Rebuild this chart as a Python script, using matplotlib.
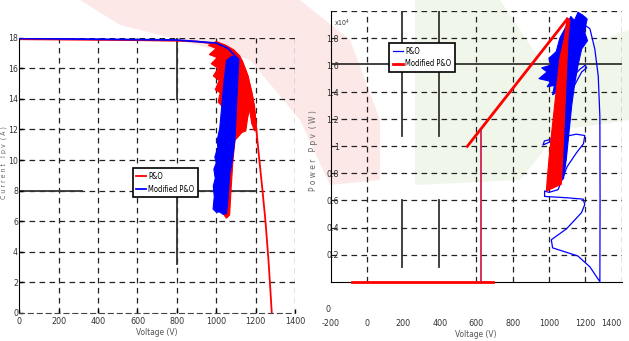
#!/usr/bin/env python3
"""I-V and P-V curves of the PV array: P&O against modified P&O."""

import matplotlib

matplotlib.use("Agg")
import matplotlib.pyplot as plt
from matplotlib import font_manager
from matplotlib.patches import Polygon

# the original uses a narrow sans; take a condensed face if one is installed
_names = {f.name for f in font_manager.fontManager.ttflist}
_cond = [f for f in font_manager.fontManager.ttflist
         if "condensed" in f.fname.lower() or "narrow" in f.fname.lower()]
if "Liberation Sans Narrow" in _names:
    plt.rcParams["font.family"] = ["Liberation Sans Narrow", "DejaVu Sans"]
elif _cond:
    plt.rcParams["font.family"] = [_cond[0].name, "DejaVu Sans"]
    plt.rcParams["font.stretch"] = _cond[0].stretch
else:
    plt.rcParams["font.family"] = ["Liberation Sans", "DejaVu Sans"]
plt.rcParams["axes.unicode_minus"] = False

RED = "#ff0000"
BLUE = "#0000ff"
GRID = "#222222"
CROSS = "#333333"
DASH = (4.5, 3.5)

# ---------------- left panel: current vs voltage ----------------
iv_x_ticks = [0, 200, 400, 600, 800, 1000, 1200, 1400]
iv_y_ticks = [0, 2, 4, 6, 8, 10, 12, 14, 16, 18]

# P&O (red) full I-V trace
po_iv_v = [0, 200, 400, 600, 800, 900, 1000, 1050, 1100, 1130, 1160, 1185,
           1200, 1215, 1235, 1250, 1265, 1275, 1282]
po_iv_i = [17.9, 17.88, 17.86, 17.84, 17.8, 17.75, 17.6, 17.4, 17.0, 16.5,
           15.5, 14.0, 12.5, 10.5, 8.0, 6.0, 3.5, 1.5, 0.0]
# P&O oscillation band (outline)
po_band_v = [1000, 960, 1000, 965, 1005, 975, 1010, 985, 1015, 995, 1020, 1010,
             1030, 1040, 1045, 1040, 1052, 1068, 1075, 1085, 1095, 1110, 1130,
             1150, 1160, 1170, 1180, 1195, 1205, 1195, 1180, 1160, 1140, 1120,
             1090, 1050]
po_band_i = [17.75, 17.5, 17.3, 16.9, 16.7, 16.3, 16.0, 15.5, 15.2, 14.6, 14.4,
             13.8, 13.5, 13.2, 10.0, 6.4, 6.2, 6.4, 8.0, 10.0, 11.3, 11.5, 11.8,
             11.9, 12.8, 13.3, 12.4, 11.9, 12.0, 13.5, 14.5, 15.5, 16.2, 16.8,
             17.2, 17.5]

# Modified P&O (blue)
mpo_iv_v = [0, 400, 800, 1000, 1060, 1111]
mpo_iv_i = [17.95, 17.9, 17.85, 17.65, 17.3, 16.6]
mpo_band_v = [984, 990, 985, 995, 988, 1000, 993, 1008, 1005, 1018, 1030, 1040,
              1052, 1080, 1115, 1105, 1095, 1080, 1069, 1060, 1052, 1035, 1018, 1000]
mpo_band_i = [6.8, 7.6, 8.3, 8.8, 9.4, 9.8, 10.2, 10.8, 11.3, 12.1, 13.8, 15.2,
              16.5, 16.8, 16.6, 14.0, 11.3, 9.8, 9.1, 7.5, 6.5, 6.45, 6.6, 6.6]

# solid black segments printed over the grid
iv_cross = [([803, 803], [18, 14]), ([803, 803], [8, 3.2]),
            ([0, 316], [8, 8]), ([600, 1196], [8, 8])]

# ---------------- right panel: power vs voltage ----------------
pv_x_ticks = [-200, 0, 200, 400, 600, 800, 1000, 1200, 1400]
pv_y_ticks = [0.2, 0.4, 0.6, 0.8, 1.0, 1.2, 1.4, 1.6, 1.8]
pv_y_labels = ["0.2", "0.4", "0.6", "0.8", "1", "1.2", "1.4", "1.6", "1.8"]
pv_x_grid = [0, 600, 800, 1000, 1200, 1400]
pv_y_grid = [0.2, 0.4, 0.6, 0.8, 1.0, 1.2, 1.4, 1.8, 2.0]

# P&O (blue) trace, power in units of 1e4 W
po_pv_v = [1160, 1203, 1225, 1252, 1271, 1280, 1281, 1280,
           1225, 1159, 1020, 1013, 1096, 1179, 1197, 1188, 1100, 976, 976,
           1000, 1050, 1068, 1100, 1150, 1190, 1197, 1150, 1114, 1050, 967,
           975, 1004, 1050, 1080, 1110, 1140, 1180, 1207, 1200, 1170, 1120, 1068]
po_pv_p = [1.99, 1.89, 1.87, 1.72, 1.52, 1.22, 0.6, 0.0,
           0.11, 0.19, 0.25, 0.31, 0.39, 0.51, 0.57, 0.61, 0.62, 0.63, 0.67,
           0.66, 0.68, 0.74, 0.85, 0.95, 1.02, 1.08, 1.09, 1.08, 1.06, 1.01,
           1.04, 1.05, 1.1, 1.2, 1.35, 1.45, 1.55, 1.58, 1.6, 1.57, 1.5, 1.42]
po_pv_band_v = [1160, 1185, 1210, 1195, 1212, 1180, 1160, 1140, 1125, 1110,
                1095, 1080, 1060, 1065, 1060, 1040, 1020, 1030, 990, 1010, 945,
                990, 960, 1010, 1000, 1040, 1060, 1100, 1120, 1140]
po_pv_band_p = [1.99, 1.97, 1.94, 1.85, 1.78, 1.72, 1.6, 1.45, 1.3, 1.1, 0.9,
                0.76, 0.75, 1.0, 1.3, 1.4, 1.38, 1.45, 1.44, 1.48, 1.5, 1.55,
                1.58, 1.6, 1.65, 1.7, 1.8, 1.9, 1.96, 1.93]

# Modified P&O (red)
mpo_pv_base_v = [-83, 690]
mpo_pv_base_p = [0.0, 0.0]
mpo_pv_step_v = [626, 626]
mpo_pv_step_p = [0.0, 1.12]
mpo_pv_ramp_v = [551, 1100]
mpo_pv_ramp_p = [1.0, 1.94]
mpo_pv_band_v = [986, 1068, 1075, 1085, 1095, 1105, 1115, 1100, 1085, 1060,
                 1035, 1015, 1000, 990]
mpo_pv_band_p = [0.67, 0.72, 0.9, 1.2, 1.5, 1.8, 1.93, 1.95, 1.8, 1.65, 1.35,
                 1.1, 0.9, 0.75]

pv_cross = [([-200, 1400], [1.61, 1.61]),
            ([194, 194], [2.0, 1.08]), ([194, 194], [0.6, 0.11]),
            ([396, 396], [2.0, 1.08]), ([396, 396], [0.6, 0.11])]


def band(ax, xs, ys, color, z):
    ax.add_patch(Polygon(list(zip(xs, ys)), closed=True, facecolor=color,
                         edgecolor=color, lw=0.8, zorder=z))


fig = plt.figure(figsize=(6.29, 3.41), dpi=100)

# faint watermark behind the plots
wm = fig.add_axes([0, 0, 1, 1], zorder=-1)
wm.set_xlim(0, 629)
wm.set_ylim(341, 0)
wm.axis("off")
wm.add_patch(Polygon([(80, 0), (300, 0), (350, 40), (380, 120), (380, 180),
                      (330, 185), (300, 120), (250, 60), (180, 40), (120, 25)],
                     facecolor="#fde8e8", edgecolor="none"))
wm.add_patch(Polygon([(415, 0), (500, 0), (540, 60), (629, 30), (629, 120),
                      (560, 130), (520, 180), (415, 185)],
                     facecolor="#f0f6e9", edgecolor="none"))

ax1 = fig.add_axes([19.3 / 629, 1 - 313 / 341, 275.7 / 629, 275.3 / 341])
ax2 = fig.add_axes([330.7 / 629, 1 - 281.7 / 341, 291 / 629, 270.7 / 341])
for ax in (ax1, ax2):
    ax.set_facecolor("none")
    ax.spines["top"].set_visible(False)
    ax.spines["right"].set_visible(False)

# ---- left ----
ax1.set_xlim(0, 1400)
ax1.set_ylim(0, 18)
for x in iv_x_ticks[1:]:
    ax1.axvline(x, color=GRID, lw=0.9, dashes=DASH, zorder=1)
for y in iv_y_ticks[1:]:
    ax1.axhline(y, color=GRID, lw=0.9, dashes=DASH, zorder=1)
for xs, ys in iv_cross:
    ax1.plot(xs, ys, color=CROSS, lw=1.3, zorder=1.5)
ax1.spines["bottom"].set_linestyle((0, DASH))
ax1.spines["bottom"].set_color("#444444")

band(ax1, po_band_v, po_band_i, RED, 2)
l_po, = ax1.plot(po_iv_v, po_iv_i, color=RED, lw=1.3, zorder=2, label="P&O")
band(ax1, mpo_band_v, mpo_band_i, BLUE, 3)
l_mpo, = ax1.plot(mpo_iv_v, mpo_iv_i, color=BLUE, lw=1.3, zorder=3,
                  label="Modified P&O")

ax1.set_xticks(iv_x_ticks)
ax1.set_yticks(iv_y_ticks)
ax1.tick_params(direction="in", length=3, width=1, labelsize=6.5,
                labelcolor="#333333", pad=3)
ax1.tick_params(axis="y", pad=1, labelsize=6.2)
ax1.set_xlabel("Voltage (V)", fontsize=6, color="#555555", labelpad=1)
ax1.set_ylabel("C u r r e n t   I p v  ( A )", fontsize=5, color="#666666",
               va="center")
ax1.yaxis.set_label_coords(-0.0555, 0.547)
leg1 = ax1.legend(handles=[l_po, l_mpo], loc="center",
                  bbox_to_anchor=(0.53, 0.473), fontsize=5.5, handlelength=1.3,
                  handletextpad=0.3, borderpad=0.45, labelspacing=0.5,
                  fancybox=False, framealpha=1, edgecolor="black")
leg1.get_frame().set_linewidth(1.2)
leg1.set_zorder(5)

# ---- right ----
ax2.set_xlim(-200, 1400)
ax2.set_ylim(0, 2.0)
for x in pv_x_grid:
    ax2.axvline(x, color=GRID, lw=0.9, dashes=DASH, zorder=1)
for y in pv_y_grid:
    ax2.axhline(y, color=GRID, lw=0.9, dashes=DASH, zorder=1)
for xs, ys in pv_cross:
    ax2.plot(xs, ys, color=CROSS, lw=1.3, zorder=1.5)

band(ax2, po_pv_band_v, po_pv_band_p, BLUE, 2)
r_po, = ax2.plot(po_pv_v, po_pv_p, color=BLUE, lw=0.9, zorder=2, label="P&O")
band(ax2, mpo_pv_band_v, mpo_pv_band_p, RED, 3)
r_mpo, = ax2.plot(mpo_pv_ramp_v, mpo_pv_ramp_p, color=RED, lw=2.0, zorder=3,
                  label="Modified P&O")
ax2.plot(mpo_pv_base_v, mpo_pv_base_p, color=RED, lw=2.0, zorder=3,
         clip_on=False)
ax2.plot(mpo_pv_step_v, mpo_pv_step_p, color="#cc1040", lw=1.2, zorder=3)

ax2.set_xticks(pv_x_ticks)
ax2.set_yticks(pv_y_ticks)
ax2.set_yticklabels(pv_y_labels)
ax2.tick_params(length=0, labelsize=6.5, labelcolor="#333333")
ax2.tick_params(axis="x", pad=27)
ax2.tick_params(axis="y", pad=-6)
ax2.get_xticklabels()[-1].set_horizontalalignment("right")
ax2.text(-0.009, -0.104, "0", transform=ax2.transAxes, fontsize=6.5,
         color="#333333", ha="center", va="center", clip_on=False)
ax2.text(0.012, 0.955, "x10$^4$", transform=ax2.transAxes, fontsize=5,
         color="#333333", ha="left", va="center")
ax2.set_xlabel("Voltage (V)", fontsize=6, color="#555555", labelpad=1)
ax2.set_ylabel("P o w e r   P p v  ( W )", fontsize=6, color="#666666")
ax2.yaxis.set_label_coords(-0.045, 0.483)
leg2 = ax2.legend(handles=[r_po, r_mpo], loc="center",
                  bbox_to_anchor=(0.314, 0.828), fontsize=5.5, handlelength=1.3,
                  handletextpad=0.3, borderpad=0.45, labelspacing=0.5,
                  fancybox=False, framealpha=1, edgecolor="black")
leg2.get_frame().set_linewidth(1.2)
leg2.set_zorder(5)

fig.savefig("out.png", dpi=100)
